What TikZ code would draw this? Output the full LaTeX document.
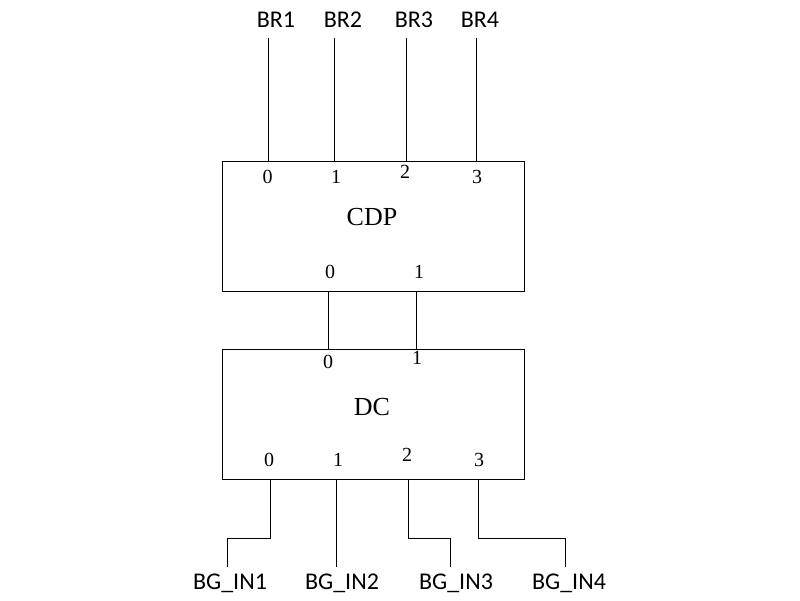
\documentclass[tikz,border=0pt]{standalone}
\usepackage{fontspec}
\setmainfont{Liberation Serif}
\newfontfamily\labfont{Carlito}
\begin{document}
\begin{tikzpicture}[x=1pt,y=-1pt,
  blk/.style={draw,line width=1pt,minimum width=302pt,minimum height=130pt,inner sep=0pt},
  wire/.style={line width=1pt},
  port/.style={font=\fontsize{20}{20}\selectfont,inner sep=0pt},
  title/.style={font=\fontsize{26}{26}\selectfont,inner sep=0pt},
  sig/.style={font=\labfont\fontsize{24}{24}\selectfont,inner sep=0pt}]
\useasboundingbox (0,0) rectangle (800,600);
\node[blk] (cdp) at (373,226) {};
\node[blk] (dc) at (373,414) {};
\node[title] (cdpt) at (372,217) {CDP};
\node[title] (dct) at (372,407) {DC};
% CDP top ports
\node[port] (c0) at (267.5,177) {0};
\node[port] (c1) at (336,177) {1};
\node[port] (c2) at (405,172) {2};
\node[port] (c3) at (477,177) {3};
% CDP bottom ports
\node[port] (cb0) at (330,272) {0};
\node[port] (cb1) at (419,272) {1};
% DC top ports
\node[port] (d0) at (328,362) {0};
\node[port] (d1) at (417,358) {1};
% DC bottom ports
\node[port] (db0) at (269,460) {0};
\node[port] (db1) at (338,460) {1};
\node[port] (db2) at (407,455) {2};
\node[port] (db3) at (479,460) {3};
% signal labels
\node[sig] (br1) at (276,20) {BR1};
\node[sig] (br2) at (343,20) {BR2};
\node[sig] (br3) at (414,20) {BR3};
\node[sig] (br4) at (480,20) {BR4};
\node[sig] (bg1) at (230,583) {BG\_IN1};
\node[sig] (bg2) at (342,583) {BG\_IN2};
\node[sig] (bg3) at (456,583) {BG\_IN3};
\node[sig] (bg4) at (569,583) {BG\_IN4};
% wire end coordinates
\coordinate (t1) at (268.7,38);
\coordinate (t2) at (334.3,38);
\coordinate (t3) at (406,38);
\coordinate (t4) at (476,38);
\coordinate (e1) at (227.3,567);
\coordinate (e2) at (336.3,567);
\coordinate (e3) at (450,567);
\coordinate (e4) at (565,567);
% top wires
\draw[wire] (t1) -- (t1 |- cdp.north);
\draw[wire] (t2) -- (t2 |- cdp.north);
\draw[wire] (t3) -- (t3 |- cdp.north);
\draw[wire] (t4) -- (t4 |- cdp.north);
% middle wires
\draw[wire] (328.3,0 |- cdp.south) -- (328.3,0 |- dc.north);
\draw[wire] (416,0 |- cdp.south) -- (416,0 |- dc.north);
% bottom wires
\draw[wire] (270.3,0 |- dc.south) -- (270.3,538.3) -| (e1);
\draw[wire] (e2 |- dc.south) -- (e2);
\draw[wire] (408.3,0 |- dc.south) -- (408.3,538.3) -| (e3);
\draw[wire] (478.3,0 |- dc.south) -- (478.3,538.3) -| (e4);
\end{tikzpicture}
\end{document}
